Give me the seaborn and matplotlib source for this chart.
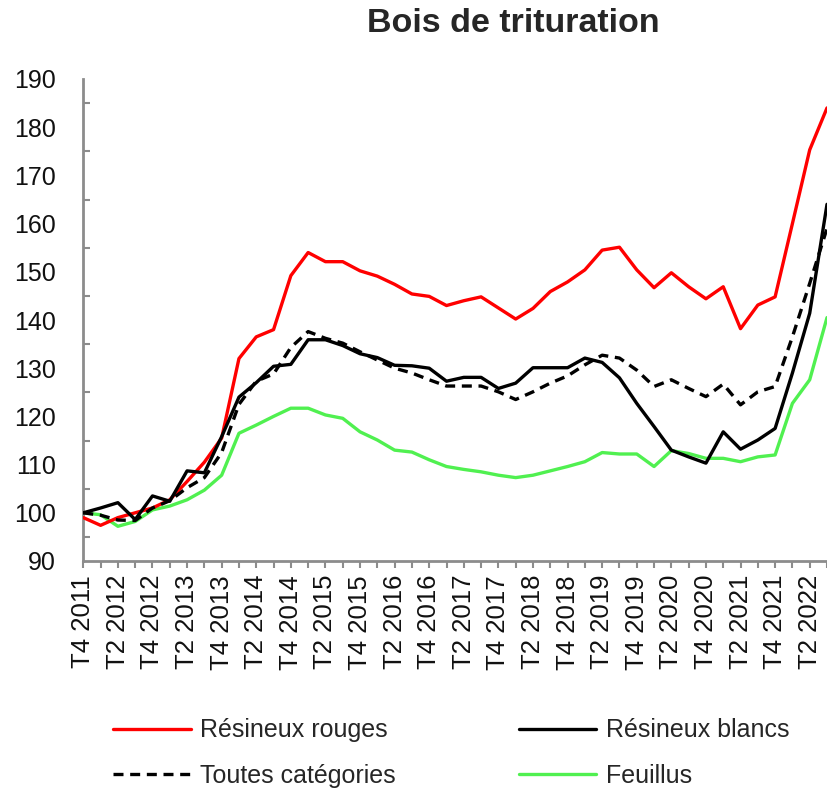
import numpy as np
import pandas as pd
import seaborn as sns
import matplotlib.pyplot as plt
from matplotlib.ticker import MultipleLocator

# trimestres T4 2011 -> T3 2022
quarters = ['T4 2011'] + ['T%d %d' % (q, y) for y in range(2012, 2023) for q in (1, 2, 3, 4)]
quarters = quarters[:44]

rouges = [99, 97.4, 99, 100, 101, 102.7, 106.5, 110.5, 115.5, 132, 136.5, 138, 149.2, 154,
          152.1, 152.1, 150.2, 149.1, 147.4, 145.4, 144.9, 143, 144, 144.8, 142.5, 140.2,
          142.4, 145.9, 147.9, 150.4, 154.5, 155.1, 150.4, 146.7, 149.8, 146.9, 144.4, 146.9,
          138.2, 143.1, 144.8, 160, 175.3, 184]
blancs = [100, 101, 102.1, 98.6, 103.5, 102.4, 108.7, 108.3, 115.8, 124, 127, 130.4, 130.8,
          135.9, 135.9, 134.7, 133, 132.2, 130.6, 130.5, 130, 127.3, 128.1, 128.1, 125.8,
          126.9, 130.1, 130.1, 130.1, 132.1, 131.2, 128, 122.7, 117.9, 113, 111.6, 110.3,
          116.8, 113.2, 115.1, 117.5, 129, 141.4, 164]
toutes = [100, 99.5, 98.5, 98.4, 101, 102.5, 105.2, 107.3, 112.5, 122.5, 127.3, 128.8, 134.3,
          137.6, 136.2, 135.2, 133.4, 131.7, 130, 129, 127.6, 126.3, 126.3, 126.3, 125.1,
          123.5, 125.1, 126.9, 128.4, 130.7, 132.7, 132.1, 129.6, 126.2, 127.6, 125.8, 124.1,
          126.7, 122.4, 125.1, 126.2, 136.5, 147.6, 159]
feuillus = [100, 99.6, 97.2, 98.2, 100.6, 101.4, 102.7, 104.7, 107.8, 116.5, 118.2, 120,
            121.7, 121.7, 120.3, 119.6, 116.8, 115.1, 113, 112.6, 111, 109.6, 109, 108.5,
            107.8, 107.3, 107.8, 108.7, 109.6, 110.6, 112.5, 112.2, 112.2, 109.6, 112.9,
            112.3, 111.3, 111.3, 110.6, 111.6, 112, 122.7, 127.6, 140.5]

sns.set_style('white')
plt.rcParams['font.family'] = ['Liberation Sans', 'DejaVu Sans']

W, H = 827, 788
fig = plt.figure(figsize=(W / 100, H / 100), dpi=100)
x0, x1, ytop, ybot = 83.3, 827, 79, 561
ax = fig.add_axes([x0 / W, 1 - ybot / H, (x1 - x0) / W, (ybot - ytop) / H])

idx = np.arange(len(quarters))
series = [('Résineux rouges', rouges, '#ff0000', ''),
          ('Toutes catégories', toutes, '#000000', (3, 2)),
          ('Résineux blancs', blancs, '#000000', ''),
          ('Feuillus', feuillus, '#50f050', '')]
handles = []
for name, vals, col, ds in series:
    df = pd.DataFrame({'x': idx, 'v': vals})
    sns.lineplot(data=df, x='x', y='v', color=col, lw=2.4, ax=ax, label=name,
                 zorder=3 if col != '#50f050' else 2)
    ln = ax.lines[-1]
    if ds:
        ln.set_dashes(ds)
    handles.append(ln)

ax.set_xlim(0, (x1 - x0) / 17.38)
ax.set_ylim(90, 190)
ax.set_xlabel('')
ax.set_ylabel('')

for s in ['top', 'right']:
    ax.spines[s].set_visible(False)
for s in ['left', 'bottom']:
    ax.spines[s].set_color('#8c8c8c')
    ax.spines[s].set_linewidth(2)

ax.yaxis.set_major_locator(MultipleLocator(10))
ax.yaxis.set_minor_locator(MultipleLocator(5))
ax.tick_params(axis='y', which='major', direction='inout', length=14, width=2,
               color='#8c8c8c', labelsize=18, pad=13, labelcolor='#111111')
ax.tick_params(axis='y', which='minor', direction='in', length=5, width=1.5, color='#8c8c8c', left=True)

ax.set_xticks(idx[::2])
ax.set_xticklabels(quarters[::2], rotation=90)
ax.set_xticks(idx[1::2], minor=True)
ax.tick_params(axis='x', which='both', direction='out', length=5, width=1.5,
               color='#8c8c8c', labelsize=18.5, pad=5, bottom=True, labelcolor='#111111')

ax.get_legend().remove()
fig.legend(handles=handles, labels=[h.get_label() for h in handles], ncol=2,
           loc='center left', bbox_to_anchor=(113 / W, 1 - 753 / H), frameon=False,
           fontsize=18, handlelength=3.1, handletextpad=0.4, columnspacing=4.9,
           labelspacing=0.85, borderpad=0, borderaxespad=0)

fig.text(513 / W, 1 - 24 / H, 'Bois de trituration', ha='center', va='center',
         fontsize=24.5, fontweight='bold')

fig.savefig('out.png', dpi=100)
